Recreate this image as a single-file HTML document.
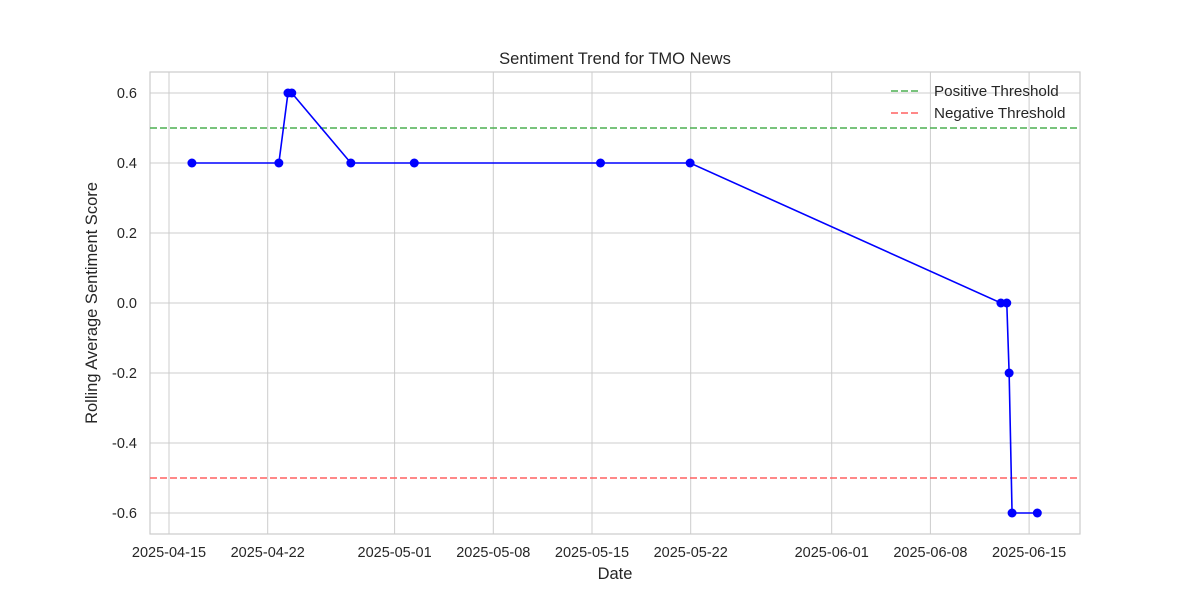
<!DOCTYPE html>
<html><head><meta charset="utf-8"><style>
body{margin:0;background:#fff;font-family:"Liberation Sans",sans-serif}
text{font-family:"Liberation Sans",sans-serif;fill:#262626}
</style></head><body>
<svg id="chart" width="1200" height="600"></svg>
<script>
const dates=["2025-04-16T15:00","2025-04-22T19:00","2025-04-23T10:30","2025-04-23T17:00","2025-04-27T21:30","2025-05-02T09:30","2025-05-15T14:30","2025-05-21T23:00","2025-06-13T00:00","2025-06-13T10:00","2025-06-13T14:00","2025-06-13T19:00","2025-06-15T14:00"];
const scores=[0.4,0.4,0.6,0.6,0.4,0.4,0.4,0.4,0.0,0.0,-0.2,-0.6,-0.6];
const xTicks=["2025-04-15","2025-04-22","2025-05-01","2025-05-08","2025-05-15","2025-05-22","2025-06-01","2025-06-08","2025-06-15"];
const yTicks=[-0.6,-0.4,-0.2,0.0,0.2,0.4,0.6];
const thresholds=[0.5,-0.5];
const NS="http://www.w3.org/2000/svg",svg=document.getElementById('chart');
const L=150,R=1080,T=72,B=534;
const t0=Date.parse("2025-04-15T00:00Z"),DAY=86400000;
function X(d){const s=d.length>10?d+":00Z":d+"T00:00:00Z";return 169+(Date.parse(s)-t0)/DAY*14.1;}
function Y(v){return 303-v*350;}
function el(tag,a,txt){const e=document.createElementNS(NS,tag);for(const k in a)e.setAttribute(k,a[k]);if(txt!==undefined)e.textContent=txt;svg.appendChild(e);return e;}
let e;
e=el('rect',{x:L,y:T,width:R-L,height:B-T,fill:'#fff',stroke:'#cccccc','stroke-width':1.2});

xTicks.forEach(d=>{const x=X(d);
e=el('line',{x1:x,x2:x,y1:T,y2:B,stroke:'#cccccc','stroke-width':1});

e=el('text',{x:x,y:557,'text-anchor':'middle','font-size':14.5},d);
});
yTicks.forEach(v=>{const y=Y(v);
e=el('line',{x1:L,x2:R,y1:y,y2:y,stroke:'#cccccc','stroke-width':1});

e=el('text',{x:137,y:y+5,'text-anchor':'end','font-size':14.5},v.toFixed(1));
});
e=el('line',{x1:L,x2:R,y1:Y(thresholds[0]),y2:Y(thresholds[0]),stroke:'#4caf50','stroke-width':1.5,'stroke-dasharray':'7,3'});

e=el('line',{x1:L,x2:R,y1:Y(thresholds[1]),y2:Y(thresholds[1]),stroke:'#ff6060','stroke-width':1.5,'stroke-dasharray':'7,3'});

e=el('polyline',{points:dates.map((d,i)=>X(d)+','+Y(scores[i])).join(' '),fill:'none',stroke:'#0000ff','stroke-width':1.6});

dates.forEach((d,i)=>{e=el('circle',{cx:X(d),cy:Y(scores[i]),r:4.5,fill:'#0000ff'});
});
e=el('text',{x:615,y:64,'text-anchor':'middle','font-size':16.5},'Sentiment Trend for TMO News');

e=el('text',{x:615,y:579,'text-anchor':'middle','font-size':16.5},'Date');

e=el('text',{x:97,y:303,'text-anchor':'middle','font-size':16.5,transform:'rotate(-90 97 303)'},'Rolling Average Sentiment Score');

e=el('line',{x1:891,x2:921,y1:91,y2:91,stroke:'#4caf50','stroke-width':1.5,'stroke-dasharray':'7,3'});

e=el('text',{x:934,y:96,'font-size':15.2},'Positive Threshold');

e=el('line',{x1:891,x2:921,y1:113,y2:113,stroke:'#ff6060','stroke-width':1.5,'stroke-dasharray':'7,3'});

e=el('text',{x:934,y:118,'font-size':15.2},'Negative Threshold');

</script>
</body></html>
